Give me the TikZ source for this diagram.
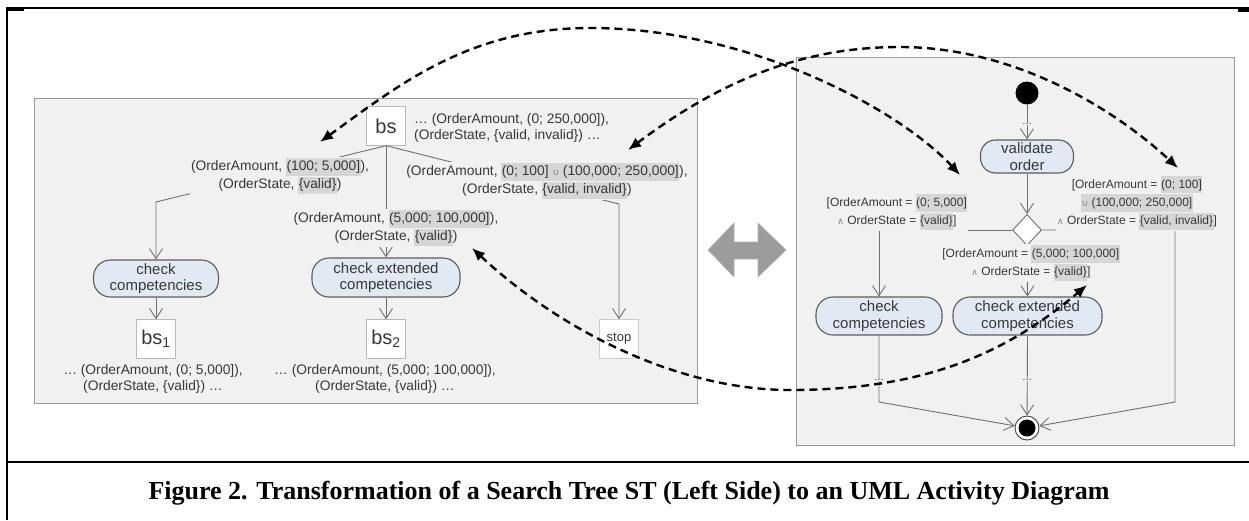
\documentclass[tikz,border=0pt]{standalone}
\usepackage{fontspec}
\setmainfont{Liberation Sans}
\setsansfont{Liberation Sans}
\newfontfamily\capfont{Liberation Serif}
\newfontfamily\opsym{DejaVu Sans}
\usetikzlibrary{arrows.meta,shapes.geometric}

\definecolor{panelbg}{HTML}{F1F1F1}
\definecolor{panelrule}{HTML}{9A9A9A}
\definecolor{pillfill}{HTML}{E1E9F5}
\definecolor{pillrule}{HTML}{5C5C5C}
\definecolor{flowgrey}{HTML}{707070}
\definecolor{txt}{HTML}{383838}
\definecolor{hlgrey}{HTML}{D6D6D6}
\definecolor{twinarrow}{HTML}{9C9C9C}

% grey marker behind a value range
\newcommand\hlt[1]{{\setlength{\fboxsep}{0.4pt}\colorbox{hlgrey}{\strut #1}}}
% small set operators
\newcommand\setop[1]{{\opsym\fontsize{9}{10}\selectfont\color{gray}#1}}

\tikzset{
  panel/.style={draw=panelrule, fill=panelbg, line width=1pt, inner sep=0pt, anchor=north west},
  statebox/.style={draw=gray!55, fill=white, minimum width=39pt, minimum height=39pt,
    inner sep=0pt, font=\sffamily\fontsize{20}{22}\selectfont},
  pill/.style={draw=pillrule, fill=pillfill, line width=1.1pt, rounded corners=17pt,
    align=center, inner sep=0pt, font=\sffamily\fontsize{15}{16.5}\selectfont},
  flow/.style={draw=flowgrey, line width=0.9pt, -{Straight Barb[length=10pt,width=13pt]}},
  treelbl/.style={fill=panelbg, inner sep=1pt, align=center, font=\sffamily\fontsize{13.8}{16.5}\selectfont},
  guard/.style={fill=panelbg, inner sep=1pt, align=center, font=\sffamily\fontsize{12}{16.5}\selectfont},
  dots/.style={fill=panelbg, inner sep=0.5pt, font=\sffamily\fontsize{10}{10}\selectfont},
  map/.style={draw=black, line width=2.4pt, dash pattern=on 8pt off 5pt,
    {Latex[length=13pt,width=11pt]}-{Latex[length=13pt,width=11pt]}},
}

\begin{document}
\begin{tikzpicture}[x=1pt, y=-1pt, font=\sffamily, text=txt]
\useasboundingbox (0,0) rectangle (1249,520);
\fill[white] (0,0) rectangle (1249,520);

% frame and caption
\draw[line width=1.5pt] (7,520) -- (7,8) -- (1249,8);
\draw[line width=3pt] (7,9) -- (24,9);
\draw[line width=3pt] (1238,10) -- (1249,10);
\draw[line width=2.5pt] (7,462) -- (1249,462);
\node[font=\capfont\bfseries\fontsize{26}{30}\selectfont, text=black] (cap) at (629,493)
  {Figure 2. Transformation of a Search Tree ST (Left Side) to an UML Activity Diagram};

% ---------- search tree ----------
\node[panel, minimum width=663pt, minimum height=305pt] (tree) at (34,98) {};
\node[statebox] (bs) at (386,126) {bs};
\node[pill, minimum width=125pt, minimum height=37pt] (cc1) at (156,278.5) {check\\competencies};
\node[pill, minimum width=148pt, minimum height=39pt] (cce1) at (386,277.5) {check extended\\competencies};
\node[statebox] (bs1) at (156,339) {bs\textsubscript{1}};
\node[statebox] (bs2) at (386,339) {bs\textsubscript{2}};
\node[statebox, draw=gray!40, font=\sffamily\fontsize{13}{15}\selectfont] (stop) at (619,339) {stop};

\coordinate (t1) at (156,202);
\coordinate (t3) at (619,204);
\draw[flow] (bs.south) -- (t1) -- (cc1.north);
\draw[flow] (bs.south) -- (cce1.north);
\draw[flow] (bs.south) -- (t3) -- (stop.north);
\draw[flow] (cc1.south) -- (bs1.north);
\draw[flow] (cce1.south) -- (bs2.north);

\node[treelbl, anchor=west, align=left] (bsinfo) at (413,128)
  {… (OrderAmount, (0; 250,000]),\\(OrderState, \{valid, invalid\}) …};
\node[treelbl] (g1) at (280,176)
  {(OrderAmount, \hlt{(100; 5,000]}),\\(OrderState, \hlt{\{valid\}})};
\node[treelbl] (g2) at (396,228)
  {(OrderAmount, \hlt{(5,000; 100,000]}),\\(OrderState, \hlt{\{valid\}})};
\node[treelbl] (g3) at (547,181)
  {(OrderAmount, \hlt{(0; 100] \setop{∪} (100,000; 250,000]}),\\(OrderState, \hlt{\{valid, invalid\}})};
\node[treelbl] (i1) at (153,379) {… (OrderAmount, (0; 5,000]),\\(OrderState, \{valid\}) …};
\node[treelbl] (i2) at (385,379) {… (OrderAmount, (5,000; 100,000]),\\(OrderState, \{valid\}) …};

% ---------- transformation symbol ----------
\draw[fill=twinarrow, draw=gray!60, line width=0.6pt]
  (708,250) -- (734,223) -- (734,242) -- (758,242) -- (758,223) -- (786,250)
  -- (758,277) -- (758,259) -- (734,259) -- (734,277) -- cycle;

% ---------- activity diagram ----------
\node[panel, minimum width=438pt, minimum height=388pt] (act) at (796,57) {};
\node[circle, fill=black, minimum size=23pt, inner sep=0pt] (init) at (1027,93) {};
\node[pill, minimum width=93pt, minimum height=33pt, rounded corners=15pt] (val) at (1027,156.5) {validate\\order};
\node[diamond, draw=flowgrey, fill=white, line width=0.9pt, minimum width=29pt,
  minimum height=31pt, inner sep=0pt] (dec) at (1027,230) {};
\node[pill, minimum width=126pt, minimum height=38pt] (cc2) at (879,316) {check\\competencies};
\node[pill, minimum width=149pt, minimum height=38pt] (cce2) at (1027.5,316) {check extended\\competencies};
\node[circle, draw=black!75, fill=white, line width=0.9pt, minimum size=24pt, inner sep=0pt] (fin) at (1027,428) {};
\node[circle, fill=black, minimum size=17pt, inner sep=0pt] (finc) at (fin) {};

\coordinate (lcorner) at (879,402);
\coordinate (rcorner) at (1175,402);
\draw[flow] (init) -- (val);
\draw[flow] (val) -- (dec);
\draw[flow] (dec.west) -| (cc2.north);
\draw[flow] (dec.south) -- (cce2.north);
\draw[flow] (dec.east) -| (rcorner) -- (fin);
\draw[flow] (cc2.south) -- (lcorner) -- (fin);
\draw[flow] (cce2.south) -- (fin);

\node[dots] (d0) at (1027,124) {…};
\node[dots] (d1) at (879,380) {…};
\node[dots] (d2) at (1027,380) {…};

\node[guard] (gl) at (897,212)
  {[OrderAmount = \hlt{(0; 5,000]}\\\setop{∧} OrderState = \hlt{\{valid\}}]};
\node[guard] (gr) at (1137,203)
  {[OrderAmount = \hlt{(0; 100]}\\\hlt{\setop{∪} (100,000; 250,000]}\\\setop{∧} OrderState = \hlt{\{valid, invalid\}}]};
\node[guard] (gm) at (1031,263)
  {[OrderAmount = \hlt{(5,000; 100,000]}\\\setop{∧} OrderState = \hlt{\{valid\}}]};

% ---------- correspondences ----------
\coordinate (a0) at (320,142);  \coordinate (apk) at (590,28);  \coordinate (a1) at (960,175);
\coordinate (b0) at (628,150);  \coordinate (bpk) at (900,47);  \coordinate (b1) at (1178,168);
\coordinate (c0) at (472,248);  \coordinate (cpk) at (790,390); \coordinate (c1) at (1087,285);
\draw[map] (a0) .. controls (400,84) and (470,28) .. (apk) .. controls (750,28) and (900,110) .. (a1);
\draw[map] (b0) .. controls (728,75) and (810,47) .. (bpk) .. controls (1010,47) and (1110,105) .. (b1);
\draw[map] (c0) .. controls (562,332) and (680,390) .. (cpk) .. controls (930,390) and (1010,350) .. (c1);
\end{tikzpicture}
\end{document}
